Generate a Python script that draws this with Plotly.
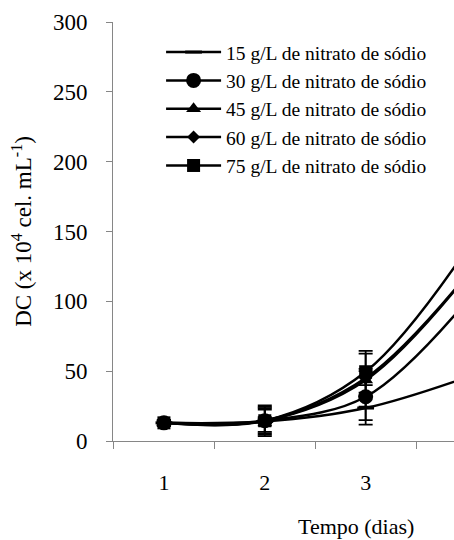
import plotly.graph_objects as go

days = [1, 2, 3, 4]
series_names = [
    "15 g/L de nitrato de sódio",
    "30 g/L de nitrato de sódio",
    "45 g/L de nitrato de sódio",
    "60 g/L de nitrato de sódio",
    "75 g/L de nitrato de sódio",
]
dc_15 = [13.0, 14.0, 23.6, 45.5]
dc_30 = [13.0, 14.5, 31.7, 100.0]
dc_45 = [13.0, 14.5, 43.6, 118.0]
dc_60 = [13.0, 14.5, 45.0, 118.5]
dc_75 = [13.0, 14.5, 49.6, 137.0]
err_15 = [2.0, 3.0, 8.6, 6.0]
err_30 = [2.0, 8.0, 20.0, 10.0]
err_45 = [2.0, 10.0, 19.0, 12.0]
err_60 = [2.0, 9.0, 5.0, 12.0]
err_75 = [2.0, 11.0, 15.0, 14.0]

values = [dc_15, dc_30, dc_45, dc_60, dc_75]
errors = [err_15, err_30, err_45, err_60, err_75]
symbols = ["line-ew", "circle", "triangle-up", "diamond", "square"]
sizes = [12, 15, 13, 10, 13]

y_ticks = [0, 50, 100, 150, 200, 250, 300]
x_labels = ["1", "2", "3"]

FONT = "Liberation Serif"
fig = go.Figure()
for name, v, e, sym, sz in zip(series_names, values, errors, symbols, sizes):
    fig.add_trace(go.Scatter(
        x=days, y=v, name=name, mode="lines+markers",
        line=dict(color="black", width=2.5, shape="spline"),
        marker=dict(symbol=sym, size=sz, color="black",
                    line=dict(color="black", width=3 if sym == "line-ew" else 0)),
        error_y=dict(type="data", array=e, visible=True, color="black",
                     thickness=1.8, width=7),
    ))

fig.add_annotation(text="Tempo (dias)", xref="paper", yref="paper",
                   x=0.713, y=0, xanchor="center", yanchor="top", yshift=-71,
                   showarrow=False, font=dict(family=FONT, size=22, color="black"))

fig.update_layout(
    width=454, height=540,
    margin=dict(l=113, r=0, t=22, b=99),
    paper_bgcolor="white", plot_bgcolor="white",
    font=dict(family=FONT, color="black", size=20),
    showlegend=True,
    legend=dict(x=0.141, y=0.974, xanchor="left", yanchor="top",
                bgcolor="rgba(0,0,0,0)", font=dict(family=FONT, size=19.5),
                itemwidth=55, tracegroupgap=0),
    xaxis=dict(range=[0.495, 3.876], tickvals=[1, 2, 3], ticktext=x_labels,
               ticks="outside", ticklen=22, tickcolor="rgba(0,0,0,0)",
               minor=dict(tickvals=[0.5, 1.5, 2.5, 3.5], ticks="outside",
                          ticklen=7, tickcolor="#868686", tickwidth=1),
               showline=True, linecolor="#868686", linewidth=1,
               showgrid=False, zeroline=False,
               tickfont=dict(family=FONT, size=22)),
    yaxis=dict(range=[0, 300], tickvals=y_ticks, ticks="outside", ticklen=6,
               tickcolor="#868686", showline=True, linecolor="#868686", linewidth=1,
               showgrid=False, zeroline=False, ticklabelstandoff=14,
               tickfont=dict(family=FONT, size=23),
               title=dict(text="DC (x 10<sup>4</sup> cel. mL<sup>-1</sup>)",
                          font=dict(family=FONT, size=23), standoff=14)),
)
fig.write_html("out.html")
